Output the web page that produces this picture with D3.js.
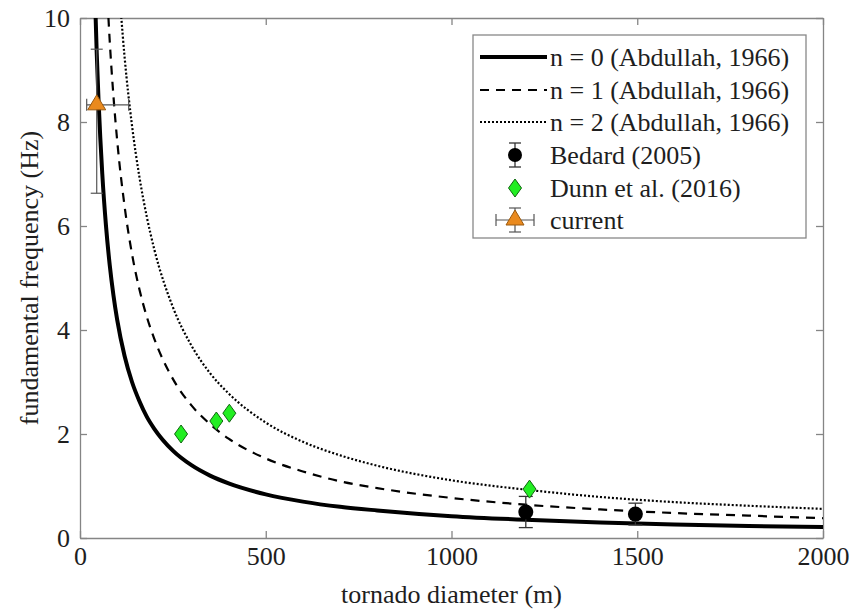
<!DOCTYPE html>
<html><head><meta charset="utf-8">
<script src="https://cdn.jsdelivr.net/npm/d3@7"></script>
<style>
body{margin:0;background:#fff;}
</style></head>
<body><svg id="c" width="855" height="610"></svg>
<script>
// ---- data ----
const xTicks = [0, 500, 1000, 1500, 2000];
const yTicks = [0, 2, 4, 6, 8, 10];
const xLabel = "tornado diameter (m)";
const yLabel = "fundamental frequency (Hz)";

const n0D = [40, 45, 50, 60, 70, 80, 90, 100, 120, 140, 160, 180, 200, 250, 300, 350, 400, 500, 600, 700, 800, 1000, 1200, 1400, 1600, 1800, 2000];
const n0F = [10.5, 9.33, 8.4, 7.0, 6.0, 5.25, 4.67, 4.2, 3.5, 3.0, 2.63, 2.33, 2.1, 1.68, 1.4, 1.2, 1.05, 0.84, 0.7, 0.6, 0.53, 0.42, 0.35, 0.3, 0.26, 0.23, 0.21];
const n1D = [70, 80, 90, 100, 120, 140, 160, 180, 200, 250, 300, 350, 400, 500, 600, 700, 800, 1000, 1200, 1400, 1600, 1800, 2000];
const n1F = [10.93, 9.56, 8.5, 7.65, 6.38, 5.46, 4.78, 4.25, 3.83, 3.06, 2.55, 2.19, 1.91, 1.53, 1.28, 1.09, 0.96, 0.77, 0.64, 0.55, 0.48, 0.43, 0.38];
const n2D = [100, 120, 140, 160, 180, 200, 250, 300, 350, 400, 500, 600, 700, 800, 1000, 1200, 1400, 1600, 1800, 2000];
const n2F = [11.1, 9.25, 7.93, 6.94, 6.17, 5.55, 4.44, 3.7, 3.17, 2.78, 2.22, 1.85, 1.59, 1.39, 1.11, 0.93, 0.79, 0.69, 0.62, 0.56];

const bedardD = [1200, 1495];
const bedardF = [0.50, 0.46];
const bedardErr = [0.30, 0.21];

const dunnD = [272, 367, 402, 1210];
const dunnF = [2.0, 2.25, 2.4, 0.94];

const curD = [45];
const curF = [8.33];
const curFlo = [6.63];
const curFhi = [9.4];
const curDlo = [18];
const curDhi = [131];

const legendLabels = ["n = 0 (Abdullah, 1966)", "n = 1 (Abdullah, 1966)", "n = 2 (Abdullah, 1966)", "Bedard (2005)", "Dunn et al. (2016)", "current"];

// ---- layout ----
const L = 80, R = 823, T = 18, B = 538;
const FONT = "'Liberation Serif', 'Times New Roman', Times, serif";
const svg = d3.select("#c");
const x = d3.scaleLinear().domain([0, 2000]).range([L, R]);
const y = d3.scaleLinear().domain([0, 10]).range([B, T]);
const axisCol = "#858585", textCol = "#1e1e1e";
const FS = 26;

svg.append("defs").append("clipPath").attr("id", "clip")
  .append("rect").attr("x", L).attr("y", T).attr("width", R - L).attr("height", B - T);

// axes
function styleAxis(g, labels) {
  g.attr("font-family", FONT).attr("font-size", FS);
  g.select(".domain").attr("stroke", axisCol).attr("stroke-width", 1.3);
  g.selectAll(".tick line").attr("stroke", axisCol).attr("stroke-width", 1.3);
  g.selectAll(".tick text").attr("fill", textCol).attr("font-family", FONT).attr("font-size", FS);
  if (!labels) g.selectAll(".tick text").remove();
}
const fmt = d3.format("d");
svg.append("g").attr("transform", `translate(0,${B})`)
  .call(d3.axisBottom(x).tickValues(xTicks).tickFormat(fmt).tickSize(-7).tickPadding(9).tickSizeOuter(0))
  .call(g => styleAxis(g, true));
svg.append("g").attr("transform", `translate(0,${T})`)
  .call(d3.axisTop(x).tickValues(xTicks).tickSize(-7).tickSizeOuter(0))
  .call(g => styleAxis(g, false));
svg.append("g").attr("transform", `translate(${L},0)`)
  .call(d3.axisLeft(y).tickValues(yTicks).tickFormat(fmt).tickSize(-7).tickPadding(10).tickSizeOuter(0))
  .call(g => styleAxis(g, true));
svg.append("g").attr("transform", `translate(${R},0)`)
  .call(d3.axisRight(y).tickValues(yTicks).tickSize(-7).tickSizeOuter(0))
  .call(g => styleAxis(g, false));

// axis titles
svg.append("text").attr("x", (L + R) / 2).attr("y", 603).attr("text-anchor", "middle")
  .attr("fill", textCol).attr("font-family", FONT).attr("font-size", FS).text(xLabel);
svg.append("text").attr("transform", `translate(38,${(T + B) / 2}) rotate(-90)`).attr("text-anchor", "middle")
  .attr("fill", textCol).attr("font-family", FONT).attr("font-size", FS).text(yLabel);

// curves
const line = d3.line().x(d => x(d[0])).y(d => y(d[1])).curve(d3.curveMonotoneX);
const plot = svg.append("g").attr("clip-path", "url(#clip)");
const curves = [
  {D: n0D, F: n0F, w: 4, dash: null},
  {D: n1D, F: n1F, w: 2.2, dash: "9,7"},
  {D: n2D, F: n2F, w: 2.2, dash: "2,2"}
];
curves.forEach(c => {
  plot.append("path").datum(c.D.map((d, i) => [d, c.F[i]]))
    .attr("d", line).attr("fill", "none").attr("stroke", "#000")
    .attr("stroke-width", c.w).attr("stroke-dasharray", c.dash);
});

// Bedard error bars + circles
const capW = 7;
bedardD.forEach((d, i) => {
  const cx = x(d), y1 = y(bedardF[i] + bedardErr[i]), y0 = y(bedardF[i] - bedardErr[i]);
  plot.append("line").attr("x1", cx).attr("x2", cx).attr("y1", y0).attr("y2", y1).attr("stroke", "#333").attr("stroke-width", 1.3);
  [y0, y1].forEach(yy => plot.append("line").attr("x1", cx - capW).attr("x2", cx + capW).attr("y1", yy).attr("y2", yy).attr("stroke", "#333").attr("stroke-width", 1.3));
});
plot.selectAll("circle.bed").data(bedardD).enter().append("circle")
  .attr("cx", d => x(d)).attr("cy", (d, i) => y(bedardF[i])).attr("r", 7.5).attr("fill", "#000");

// Dunn diamonds
const diamond = (cx, cy) => `M${cx},${cy - 9}L${cx + 6.5},${cy}L${cx},${cy + 9}L${cx - 6.5},${cy}Z`;
plot.selectAll("path.dunn").data(dunnD).enter().append("path")
  .attr("d", (d, i) => diamond(x(d), y(dunnF[i])))
  .attr("fill", "#22ee22").attr("stroke", "#116611").attr("stroke-width", 1);

// current: error bars + triangle
const ebCol = "#555";
curD.forEach((d, i) => {
  const cx = x(d), cy = y(curF[i]);
  const g = svg.append("g");
  g.append("line").attr("x1", cx).attr("x2", cx).attr("y1", y(curFlo[i])).attr("y2", y(curFhi[i])).attr("stroke", ebCol).attr("stroke-width", 1.2);
  [y(curFlo[i]), y(curFhi[i])].forEach(yy => g.append("line").attr("x1", cx - 6).attr("x2", cx + 6).attr("y1", yy).attr("y2", yy).attr("stroke", ebCol).attr("stroke-width", 1.2));
  g.append("line").attr("x1", x(curDlo[i])).attr("x2", x(curDhi[i])).attr("y1", cy).attr("y2", cy).attr("stroke", ebCol).attr("stroke-width", 1.2);
  [x(curDlo[i]), x(curDhi[i])].forEach(xx => g.append("line").attr("x1", xx).attr("x2", xx).attr("y1", cy - 6).attr("y2", cy + 6).attr("stroke", ebCol).attr("stroke-width", 1.2));
  g.append("path").attr("d", `M${cx},${cy - 10}L${cx + 9},${cy + 5}L${cx - 9},${cy + 5}Z`)
    .attr("fill", "#ea8a1e").attr("stroke", "#9a5a10").attr("stroke-width", 1);
});

// legend
const lg = svg.append("g");
lg.append("rect").attr("x", 473).attr("y", 35).attr("width", 333).attr("height", 203)
  .attr("fill", "#fff").attr("stroke", "#888").attr("stroke-width", 1.3);
const rowY = [57, 90, 122, 155, 188, 220];
const lx0 = 480, lx1 = 547, mx = 515, tx = 550;
legendLabels.forEach((lab, i) => {
  lg.append("text").attr("x", tx).attr("y", rowY[i]).attr("dy", "0.35em")
    .attr("fill", textCol).attr("font-family", FONT).attr("font-size", FS).text(lab);
});
curves.forEach((c, i) => {
  lg.append("line").attr("x1", lx0).attr("x2", lx1).attr("y1", rowY[i]).attr("y2", rowY[i])
    .attr("stroke", "#000").attr("stroke-width", c.w).attr("stroke-dasharray", c.dash);
});
// Bedard legend
{
  const cy = rowY[3];
  lg.append("line").attr("x1", mx).attr("x2", mx).attr("y1", cy - 12).attr("y2", cy + 12).attr("stroke", "#333").attr("stroke-width", 1.3);
  [cy - 12, cy + 12].forEach(yy => lg.append("line").attr("x1", mx - 6).attr("x2", mx + 6).attr("y1", yy).attr("y2", yy).attr("stroke", "#333").attr("stroke-width", 1.3));
  lg.append("circle").attr("cx", mx).attr("cy", cy).attr("r", 7).attr("fill", "#000");
}
lg.append("path").attr("d", diamond(mx, rowY[4])).attr("fill", "#22ee22").attr("stroke", "#116611");
{
  const cy = rowY[5];
  lg.append("line").attr("x1", mx).attr("x2", mx).attr("y1", cy - 12).attr("y2", cy + 12).attr("stroke", ebCol).attr("stroke-width", 1.2);
  [cy - 12, cy + 12].forEach(yy => lg.append("line").attr("x1", mx - 6).attr("x2", mx + 6).attr("y1", yy).attr("y2", yy).attr("stroke", ebCol).attr("stroke-width", 1.2));
  lg.append("line").attr("x1", mx - 19).attr("x2", mx + 19).attr("y1", cy).attr("y2", cy).attr("stroke", ebCol).attr("stroke-width", 1.2);
  [mx - 19, mx + 19].forEach(xx => lg.append("line").attr("x1", xx).attr("x2", xx).attr("y1", cy - 6).attr("y2", cy + 6).attr("stroke", ebCol).attr("stroke-width", 1.2));
  lg.append("path").attr("d", `M${mx},${cy - 10}L${mx + 9},${cy + 5}L${mx - 9},${cy + 5}Z`)
    .attr("fill", "#ea8a1e").attr("stroke", "#9a5a10");
}
</script></body></html>
